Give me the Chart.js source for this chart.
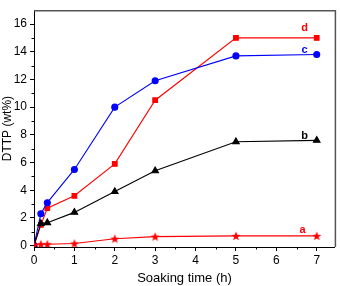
<!DOCTYPE html>
<html><head><meta charset="utf-8">
<script src="https://cdn.jsdelivr.net/npm/chart.js@4/dist/chart.umd.min.js"></script>
<style>html,body{margin:0;padding:0;background:#fff}#w{width:340px;height:286px}</style>
</head><body><div id="w"><canvas id="c" width="340" height="286"></canvas></div>
<script>
const times = [0, 0.17, 0.33, 1, 2, 3, 5, 7];
const seriesA = [0.05, 0.1, 0.1, 0.15, 0.5, 0.65, 0.7, 0.7];
const seriesB = [0, 1.6, 1.65, 2.4, 3.9, 5.4, 7.5, 7.6];
const seriesC = [0, 2.3, 3.1, 5.5, 10, 11.9, 13.7, 13.8];
const seriesD = [0, 1.5, 2.7, 3.6, 5.9, 10.5, 15, 15];
const xTicks = [0, 1, 2, 3, 4, 5, 6, 7];
const yTicks = [0, 2, 4, 6, 8, 10, 12, 14, 16];
const seriesLabels = [
  {text: 'a', x: 6.65, y: 1.15, color: '#ff0000'},
  {text: 'b', x: 6.7, y: 7.95, color: '#000000'},
  {text: 'c', x: 6.7, y: 14.15, color: '#0000ff'},
  {text: 'd', x: 6.7, y: 15.7, color: '#ff0000'}
];
const pts = arr => times.map((t, i) => ({x: t, y: arr[i]}));

function makeStar(color) {
  const s = 10, c = document.createElement('canvas');
  c.width = s; c.height = s;
  const g = c.getContext('2d');
  const cx = s / 2, cy = s / 2 + 0.4, R = 4.8, r = 2.0;
  g.beginPath();
  for (let i = 0; i < 10; i++) {
    const ang = -Math.PI / 2 + i * Math.PI / 5;
    const rad = i % 2 === 0 ? R : r;
    const px = cx + rad * Math.cos(ang), py = cy + rad * Math.sin(ang);
    if (i === 0) g.moveTo(px, py); else g.lineTo(px, py);
  }
  g.closePath();
  g.fillStyle = color;
  g.fill();
  return c;
}
const starImg = makeStar('#ff0000');

const extras = {
  id: 'extras',
  afterDraw(chart) {
    const {ctx, chartArea: a, scales: {x, y}} = chart;
    ctx.save();
    ctx.strokeStyle = '#555';
    ctx.lineWidth = 1.5;
    ctx.beginPath();
    ctx.moveTo(a.left, a.top + 0.5); ctx.lineTo(a.right + 0.5, a.top + 0.5);
    ctx.lineTo(a.right + 0.5, a.bottom);
    ctx.stroke();
    ctx.strokeStyle = '#000';
    ctx.lineWidth = 1;
    ctx.beginPath();
    for (let v = 0.5; v < 7.5; v += 1) {
      const px = Math.round(x.getPixelForValue(v)) + 0.5;
      ctx.moveTo(px, a.bottom); ctx.lineTo(px, a.bottom + 2.5);
    }
    for (let v = 1; v < 17; v += 2) {
      const py = Math.round(y.getPixelForValue(v)) + 0.5;
      ctx.moveTo(a.left, py); ctx.lineTo(a.left - 2.5, py);
    }
    ctx.stroke();
    ctx.font = 'bold 11px "Liberation Sans", Arial, sans-serif';
    ctx.textAlign = 'center';
    ctx.textBaseline = 'middle';
    seriesLabels.forEach(l => {
      ctx.fillStyle = l.color;
      ctx.fillText(l.text, x.getPixelForValue(l.x), y.getPixelForValue(l.y));
    });
    ctx.restore();
  }
};

new Chart(document.getElementById('c'), {
  type: 'scatter',
  data: {
    datasets: [
      {data: pts(seriesA), borderColor: '#ff0000', backgroundColor: '#ff0000', pointStyle: starImg, pointRadius: 4, borderWidth: 1.1},
      {data: pts(seriesB), borderColor: '#000000', backgroundColor: '#000000', pointStyle: 'triangle', pointRadius: 3.8, borderWidth: 1.1},
      {data: pts(seriesC), borderColor: '#0000ff', backgroundColor: '#0000ff', pointStyle: 'circle', pointRadius: 3, borderWidth: 1.1},
      {data: pts(seriesD), borderColor: '#ff0000', backgroundColor: '#ff0000', pointStyle: 'rect', pointRadius: 3.3, borderWidth: 1.1}
    ].map(d => Object.assign(d, {showLine: true, tension: 0, pointHoverRadius: d.pointRadius}))
  },
  options: {
    responsive: false,
    animation: false,
    layout: {padding: {top: 2, right: 3, left: 0, bottom: 0}},
    plugins: {legend: {display: false}, tooltip: {enabled: false}},
    scales: {
      x: {
        type: 'linear', min: 0, max: 7.45,
        afterBuildTicks: s => { s.ticks = xTicks.map(v => ({value: v})); },
        afterFit: s => { s.height = 39; },
        ticks: {color: '#000', font: {family: '"Liberation Sans", Arial, sans-serif', size: 12}, padding: 2, maxRotation: 0},
        grid: {display: true, drawOnChartArea: false, drawTicks: true, tickLength: 4, color: '#000'},
        border: {color: '#000', width: 1},
        title: {display: true, text: 'Soaking time (h)', color: '#000', font: {family: '"Liberation Sans", Arial, sans-serif', size: 13}, padding: {top: 2, bottom: 0}}
      },
      y: {
        type: 'linear', min: -0.1, max: 17,
        afterBuildTicks: s => { s.ticks = yTicks.map(v => ({value: v})); },
        afterFit: s => { s.width = 34; },
        ticks: {color: '#000', font: {family: '"Liberation Sans", Arial, sans-serif', size: 12}, padding: 3},
        grid: {display: true, drawOnChartArea: false, drawTicks: true, tickLength: 4, color: '#000'},
        border: {color: '#000', width: 1},
        title: {display: true, text: 'DTTP (wt%)', color: '#000', font: {family: '"Liberation Sans", Arial, sans-serif', size: 12}, padding: {top: 0, bottom: 0}}
      }
    }
  },
  plugins: [extras]
});
</script></body></html>
